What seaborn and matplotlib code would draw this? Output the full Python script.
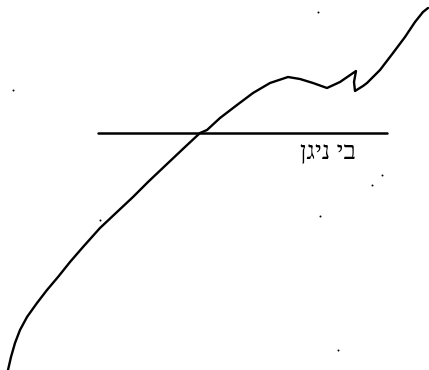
import matplotlib
matplotlib.use("Agg")
import matplotlib.pyplot as plt
import seaborn as sns
import pandas as pd

# traced curve (x to the right, y downward)
curve_x = [8, 11, 15, 20, 27, 37, 47, 58, 70, 83, 100, 117, 133, 148, 167, 185, 200,
           207, 220, 237, 253, 270, 288, 300, 313, 327, 340, 356, 354, 355, 363, 367,
           380, 393, 405, 415, 423, 428]
curve_y = [370, 357, 343, 330, 317, 303, 290, 277, 262, 247, 228, 212, 197, 182, 164, 147, 133,
           130, 118, 105, 93, 83, 77, 79, 83, 88, 82, 71, 82, 91, 86, 83,
           70, 53, 37, 22, 12, 8]

# horizontal reference line
hline_x = [98, 387]
hline_y = [133, 133]

label_text = "ןגינ יב"
label_x = 328
label_y = 159

speck_x = [318, 13, 382, 372, 320, 338, 100]
speck_y = [12, 90, 175, 185, 216, 350, 220]

sns.set_theme(style="white")
plt.rcParams['font.family'] = ['Liberation Serif', 'DejaVu Sans']

fig = plt.figure(figsize=(4.29, 3.70), dpi=100)
ax = fig.add_axes([0, 0, 1, 1])

df = pd.DataFrame({"x": curve_x, "y": curve_y})
sns.lineplot(data=df, x="x", y="y", sort=False, estimator=None, color="black",
             linewidth=1.7, ax=ax)
ax.lines[-1].set_solid_joinstyle("round")
sns.lineplot(x=hline_x, y=hline_y, color="black", linewidth=1.8, ax=ax)
sns.scatterplot(x=speck_x, y=speck_y, color="black", s=2, linewidth=0, ax=ax)

ax.text(label_x, label_y, label_text, ha="center", va="baseline", fontsize=18.5, color="black")

ax.set_xlim(0, 429)
ax.set_ylim(370, 0)
ax.axis("off")
fig.savefig("out.png", dpi=100, facecolor="white")
